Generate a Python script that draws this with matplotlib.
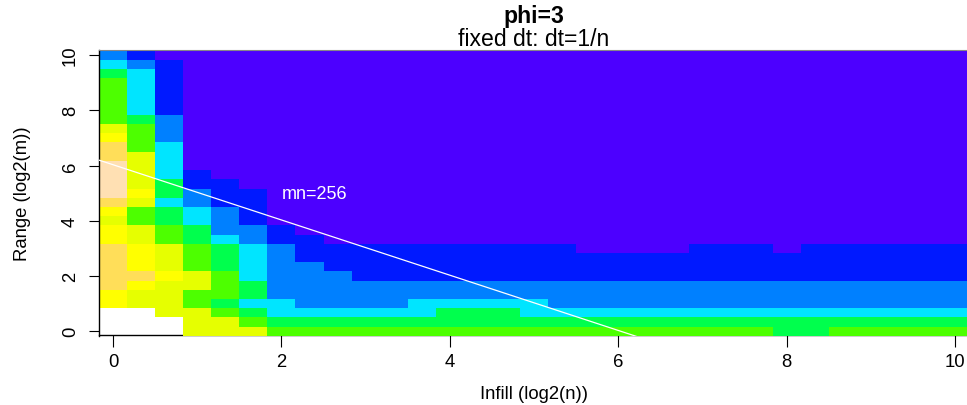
import numpy as np
import matplotlib
matplotlib.use("Agg")
import matplotlib.pyplot as plt
from matplotlib.colors import ListedColormap

plt.rcParams['font.family'] = ['Liberation Sans', 'DejaVu Sans']

# ---- data ----
# cell centres in log2 units
x_log2n = np.arange(31) / 3.0
y_log2m = np.arange(31) / 3.0
# colour level (0..9) of each cell; '.' = missing. Rows listed top (y=10) to bottom (y=0),
# columns left (x=0) to right (x=10); spaces only group columns by ten.
level_rows = [
    "2100000000 0000000000 0000000000 0",
    "3210000000 0000000000 0000000000 0",
    "4310000000 0000000000 0000000000 0",
    "5310000000 0000000000 0000000000 0",
    "5310000000 0000000000 0000000000 0",
    "5310000000 0000000000 0000000000 0",
    "5310000000 0000000000 0000000000 0",
    "5420000000 0000000000 0000000000 0",
    "6520000000 0000000000 0000000000 0",
    "7520000000 0000000000 0000000000 0",
    "8530000000 0000000000 0000000000 0",
    "8630000000 0000000000 0000000000 0",
    "9630000000 0000000000 0000000000 0",
    "9631000000 0000000000 0000000000 0",
    "9641100000 0000000000 0000000000 0",
    "9742110000 0000000000 0000000000 0",
    "8632110000 0000000000 0000000000 0",
    "7543210000 0000000000 0000000000 0",
    "6543210000 0000000000 0000000000 0",
    "7654221000 0000000000 0000000000 0",
    "7654321100 0000000000 0000000000 0",
    "8765432111 1111111000 0111011111 1",
    "8765432111 1111111111 1111111111 1",
    "8765432211 1111111111 1111111111 1",
    "8876532221 1111111111 1111111111 1",
    "8766542222 2222222222 2222222222 2",
    "7665542222 2222222222 2222222222 2",
    "7665433222 2333332222 2222222222 2",
    "..66543333 3344433333 3333333333 3",
    "...6654444 4444444444 4444444444 4",
    "...6665555 5555555555 5555445555 5",
]
# R topo.colors(10)
palette = ["#4C00FF", "#0019FF", "#0080FF", "#00E5FF", "#00FF4D",
           "#4DFF00", "#E6FF00", "#FFFF00", "#FFDE59", "#FFE0B3"]
x_ticks = [0, 2, 4, 6, 8, 10]
y_ticks = [0, 2, 4, 6, 8, 10]
mn_line_sum = 6.03          # log2(n) + log2(m) along the white line
mn_label = "mn=256"
mn_label_pos = (2.0, 5.0)
title = "phi=3"
subtitle = "fixed dt: dt=1/n"
xlabel = "Infill (log2(n))"
ylabel = "Range (log2(m))"

# ---- build grid ----
rows = [r.replace(" ", "") for r in level_rows]
assert all(len(r) == 31 for r in rows), [len(r) for r in rows]
Z = np.array([[np.nan if c == "." else float(c) for c in r] for r in rows])[::-1]
Z = np.ma.masked_invalid(Z)

dx = x_log2n[1] - x_log2n[0]
dy = y_log2m[1] - y_log2m[0]
xe = np.concatenate([x_log2n - dx / 2, [x_log2n[-1] + dx / 2]])
ye = np.concatenate([y_log2m - dy / 2, [y_log2m[-1] + dy / 2]])

W, H = 967, 406
fig = plt.figure(figsize=(W / 100, H / 100), dpi=100)
left_px, right_px, top_px, bot_px = 98.9, 969.3, 51.4, 336.9
ax = fig.add_axes([left_px / W, 1 - bot_px / H, (right_px - left_px) / W, (bot_px - top_px) / H])

cmap = ListedColormap(palette)
cmap.set_bad((1, 1, 1, 0))
ax.pcolormesh(xe, ye, Z, cmap=cmap, vmin=-0.5, vmax=9.5, zorder=2.7, shading="flat")
ax.set_xlim(xe[0], xe[-1])
ax.set_ylim(ye[0], ye[-1])

xs = np.array([xe[0], xe[-1]])
ax.plot(xs, mn_line_sum - xs, color="white", lw=0.9, zorder=4)
ax.text(mn_label_pos[0], mn_label_pos[1], mn_label, color="white", fontsize=13,
        ha="left", va="center", zorder=5)

ax.spines["right"].set_visible(False)
ax.spines["left"].set_zorder(3)
ax.spines["left"].set_linewidth(1.0)
ax.spines["top"].set_zorder(3)
ax.spines["top"].set_color("#888888")
ax.spines["top"].set_linewidth(0.8)
ax.spines["bottom"].set_zorder(2)
ax.spines["bottom"].set_linewidth(1.0)
ax.spines["bottom"].set_position(("outward", -1.0))

ax.set_xticks(x_ticks)
ax.set_yticks(y_ticks)
ax.set_xticklabels([str(t) for t in x_ticks])
ax.set_yticklabels([str(t) for t in y_ticks])
ax.tick_params(axis="both", direction="out", length=7.5, width=0.8, labelsize=13.3, color="black")
ax.tick_params(axis="x", pad=5, length=8.5)
ax.tick_params(axis="y", pad=7, labelrotation=90)
for lab in ax.get_yticklabels():
    lab.set_va("center")

fig.text(534 / W, 1 - 17 / H, title, fontsize=16.6, fontweight="bold", ha="center", va="center")
fig.text(534 / W, 1 - 40 / H, subtitle, fontsize=16.6, ha="center", va="center")
fig.text(534 / W, 1 - 395 / H, xlabel, fontsize=13.3, ha="center", va="center")
fig.text(23 / W, 1 - 194 / H, ylabel, fontsize=13.3, ha="center", va="center", rotation=90)

fig.savefig("out.png", dpi=100)
